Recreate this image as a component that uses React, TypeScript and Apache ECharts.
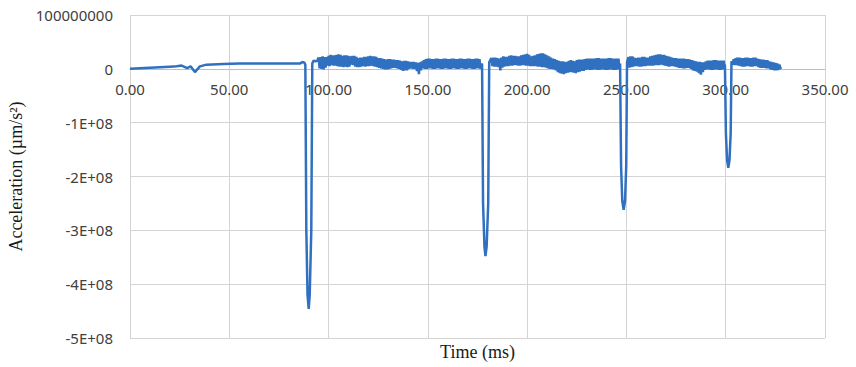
import React, { useEffect, useRef } from "react";
import * as echarts from "echarts";

// Acceleration values are in units of 1e6 µm/s²; time in ms.
const yTickValues = [-500, -400, -300, -200, -100, 0, 100];
const yTickLabels = ["-5E+08", "-4E+08", "-3E+08", "-2E+08", "-1E+08", "0", "100000000"];
const xTickValues = [0, 50, 100, 150, 200, 250, 300, 350];
const xTickLabels = ["0.00", "50.00", "100.00", "150.00", "200.00", "250.00", "300.00", "350.00"];

const baselinePoints: [number, number][] = [
  [0, 0], [5, 1], [10, 2], [15, 3], [20, 4], [23.5, 4.6], [26, 6], [28.8, 1.5],
  [30.5, 4.6], [32.7, -6], [35.2, 4.6], [38.5, 7.8], [47, 9], [55, 9.7],
  [70, 9.8], [85.5, 9.8], [86.8, 12.6], [87.7, 12],
];

const spike1: [number, number][] = [
  [88.3, 8], [88.8, -300], [89.4, -420], [90, -446], [90.5, -420], [91.3, -300],
  [91.8, 10], [92.4, 15], [93.5, 14], [94.3, 15],
];

// sampled every 0.5 ms
const band1Start = 95;
const band1 = [
  21, 1, 22, 0, 23, -1, 22, 2, 22, 6, 24, 5, 26, 7, 25, 6, 25, 6, 26, 5,
  27, 4, 26, 4, 24, 3, 25, 4, 25, 3, 24, 4, 23, 8, 24, 7, 24, 4, 22, 3,
  20, 3, 21, 4, 21, 5, 22, 4, 22, 5, 23, 5, 24, 6, 23, 5, 23, 4, 22, 3,
  20, 2, 20, 1, 19, 0, 18, -1, 17, -1, 18, 0, 18, 1, 17, 2, 17, 2, 16, 1,
  16, 0, 15, -2, 14, -4, 15, -3, 15, -3, 14, 0, 13, 1, 13, 0, 13, 0, 12, -4,
  11, -10, 12, -3, 14, 1, 16, 0, 18, 0, 19, 1, 19, 1, 18, 0, 18, 0, 19, 1,
  19, 1, 18, 0, 18, 0, 19, 1, 19, 1, 18, 0, 18, 0, 19, 1, 19, 1, 18, 0,
  18, 0, 19, 1, 19, 1, 18, 0, 18, 0, 19, 1, 19, 1, 18, 0, 18, 0, 19, 1,
  19, 1, 18, 0,
];

const spike2: [number, number][] = [
  [177.3, 10], [177.8, -250], [178.5, -330], [179, -348], [179.6, -330],
  [180.4, -250], [180.9, 12],
];

const band2Start = 182;
const band2 = [
  20, 5, 21, 4, 21, 4, 20, 3, 19, -3, 21, 2, 23, 4, 22, 5, 22, 5, 24, 6,
  25, 6, 24, 7, 24, 7, 23, 6, 23, 6, 25, 7, 26, 7, 27, 6, 28, 6, 26, 5,
  23, 5, 24, 5, 25, 5, 27, 4, 28, 4, 29, 3, 29, 3, 27, 2, 25, 1, 23, 0,
  21, 0, 19, -1, 18, -3, 16, -6, 15, -8, 14, -9, 14, -10, 13, -8, 13, -7, 15, -6,
  16, -6, 15, -7, 14, -8, 16, -6, 17, -5, 17, -4, 17, -4, 18, -2, 19, -1, 19, -2,
  19, -2, 19, -1, 19, -1, 20, -2, 20, -2, 19, -1, 19, -1, 19, -2, 19, -2, 20, -1,
  20, -1, 19, -2, 19, -2, 19, -1, 19, -1,
];

const spike3: [number, number][] = [
  [246.8, 10], [247.3, -180], [247.9, -245], [248.6, -262], [249.3, -245],
  [249.9, -180], [250.3, 12],
];

const band3Start = 251;
const band3 = [
  22, 2, 23, 3, 23, 4, 21, 5, 20, 5, 21, 4, 21, 4, 22, 5, 22, 5, 21, 6,
  21, 6, 23, 6, 24, 6, 25, 7, 26, 7, 27, 7, 27, 8, 26, 7, 26, 6, 24, 5,
  23, 4, 22, 5, 21, 5, 20, 4, 20, 3, 19, 2, 19, 2, 19, 1, 19, 1, 18, 2,
  18, 2, 17, 0, 16, -3, 15, -4, 14, -5, 13, -8, 13, -11, 12, -6, 12, -2, 14, -1,
  15, -1, 15, -2, 15, -2, 16, -1, 16, -1, 15, -2, 15, -2, 15, -1, 15, -1,
];

const spike4: [number, number][] = [
  [299.6, 8], [300.1, -120], [300.7, -170], [301.3, -184], [301.9, -170],
  [302.5, -120], [302.9, 12],
];

const band4Start = 303;
const band4 = [
  14, 8, 18, 7, 20, 7, 21, 6, 21, 5, 20, 4, 20, 4, 21, 5, 21, 5, 20, 4,
  20, 4, 21, 5, 21, 5, 19, 3, 18, 2, 17, 2, 17, 2, 16, 1, 16, 1, 14, -1,
  13, -2, 12, -3, 11, -3, 10, -2, 8, 2,
];

const tailPoints: [number, number][] = [[328, 0]];

const BAND_STEP = 0.5;

function bandPoints(start: number, values: number[]): [number, number][] {
  return values.map((v, i) => [start + i * BAND_STEP, v]);
}

const series: [number, number][] = [
  ...baselinePoints,
  ...spike1,
  ...bandPoints(band1Start, band1),
  ...spike2,
  ...bandPoints(band2Start, band2),
  ...spike3,
  ...bandPoints(band3Start, band3),
  ...spike4,
  ...bandPoints(band4Start, band4),
  ...tailPoints,
];

const tickFont = "'Noto Sans', 'Liberation Sans', sans-serif";
const titleFont = "'Liberation Serif', 'DejaVu Serif', serif";

const GRID_TOP = 15;
const GRID_BOTTOM = 29;
const CHART_H = 367;

export default function App() {
  const ref = useRef<HTMLDivElement>(null);
  useEffect(() => {
    document.body.style.margin = "0";
    if (!ref.current) return;
    const chart = echarts.init(ref.current, undefined, { renderer: "svg" });
    const plotH = CHART_H - GRID_TOP - GRID_BOTTOM;
    const yMin = yTickValues[0];
    const yMax = yTickValues[yTickValues.length - 1];
    // distance from plot bottom up to the zero line
    const zeroOffset = (plotH * (0 - yMin)) / (yMax - yMin);
    chart.setOption({
      animation: false,
      backgroundColor: "#ffffff",
      grid: { left: 130, right: 31, top: GRID_TOP, bottom: GRID_BOTTOM, containLabel: false, outerBoundsMode: "none" },
      xAxis: [
        {
          type: "value",
          min: 0,
          max: 350,
          interval: 50,
          position: "bottom",
          offset: -zeroOffset,
          axisLine: { show: true, onZero: false, lineStyle: { color: "#bfbfbf", width: 1 } },
          axisTick: { show: false },
          axisLabel: {
            margin: 13,
            fontFamily: tickFont,
            fontSize: 15,
            color: "#404040",
            formatter: (v: number) => {
              const i = xTickValues.indexOf(v);
              return i >= 0 ? xTickLabels[i] : "";
            },
          },
          splitLine: { show: true, lineStyle: { color: "#d6d3d3", width: 1 } },
        },
        {
          type: "value",
          min: 0,
          max: 350,
          position: "bottom",
          axisLine: { show: false, onZero: false },
          axisTick: { show: false },
          axisLabel: { show: false },
          splitLine: { show: false },
          name: "Time (ms)",
          nameLocation: "middle",
          nameGap: 5,
          nameTextStyle: { fontFamily: titleFont, fontSize: 18, color: "#1a1a1a" },
        },
      ],
      yAxis: {
        type: "value",
        min: yMin,
        max: yMax,
        interval: 100,
        axisLine: { show: false },
        axisTick: { show: false },
        axisLabel: {
          margin: 17,
          fontFamily: tickFont,
          fontSize: 15,
          color: "#404040",
          formatter: (v: number) => {
            const i = yTickValues.indexOf(v);
            return i >= 0 ? yTickLabels[i] : "";
          },
        },
        splitLine: { show: true, lineStyle: { color: "#d6d3d3", width: 1 } },
        name: "Acceleration (µm/s²)",
        nameLocation: "middle",
        nameGap: 104,
        nameTextStyle: { fontFamily: titleFont, fontSize: 18, color: "#1a1a1a" },
      },
      series: [
        {
          type: "line",
          xAxisIndex: 0,
          data: series,
          showSymbol: false,
          symbol: "none",
          lineStyle: { color: "#3070C0", width: 2.5 },
          itemStyle: { color: "#3070C0" },
        },
      ],
    });
    return () => chart.dispose();
  }, []);
  return <div ref={ref} style={{ width: 856, height: 367 }} />;
}
